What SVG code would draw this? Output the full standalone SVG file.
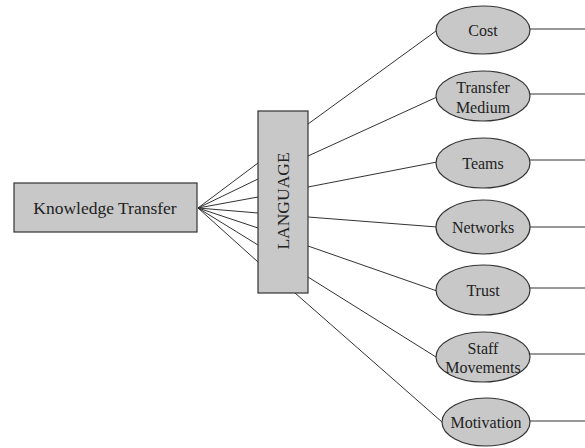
<svg xmlns="http://www.w3.org/2000/svg" width="585" height="448" viewBox="0 0 585 448">
<style>
.box{fill:#c8c8c8;stroke:#333;stroke-width:1.2}
.ln{stroke:#333;stroke-width:1;fill:none}
text{font-family:"Liberation Serif","Times New Roman",serif;fill:#222;text-anchor:middle}
.t{font-size:16px}
</style>
<rect width="585" height="448" fill="#fff"/>
<g id="connectors">
<path class="ln" d="M198 208L258 163M198 208L258 179M198 208L258 197M198 208L258 213M198 208L258 228M198 208L258 245M198 208L258 262"/>
<path class="ln" d="M308 124L436 31M308 156L437 97M308 187L437 162M308 217L437 227M308 246L437 291M308 277L436 357M295 293L442 422"/>
<path class="ln" d="M530 29H585M530 94H585M530 160H585M530 227H585M530 288H585M530 354H585M530 421H585"/>
</g>
<g id="knowledge"><rect class="box" x="14" y="183" width="183" height="49"/><text x="105" y="214" font-size="17.5">Knowledge Transfer</text></g>
<g id="language"><rect class="box" x="258" y="111" width="50" height="182"/><text transform="translate(289,201) rotate(-90)" font-size="17.5">LANGUAGE</text></g>
<g id="cost"><ellipse class="box" cx="483" cy="30" rx="47" ry="24"/><text class="t" x="483" y="36">Cost</text></g>
<g id="medium"><ellipse class="box" cx="483" cy="96" rx="47" ry="25"/><text class="t" x="483" y="93">Transfer</text><text class="t" x="483" y="113">Medium</text></g>
<g id="teams"><ellipse class="box" cx="483" cy="163" rx="47" ry="25"/><text class="t" x="483" y="169">Teams</text></g>
<g id="networks"><ellipse class="box" cx="483" cy="227" rx="47" ry="27"/><text class="t" x="483" y="233">Networks</text></g>
<g id="trust"><ellipse class="box" cx="483" cy="290" rx="47" ry="25"/><text class="t" x="483" y="296">Trust</text></g>
<g id="staff"><ellipse class="box" cx="483" cy="357" rx="47" ry="25"/><text class="t" x="483" y="354">Staff</text><text class="t" x="483" y="373">Movements</text></g>
<g id="motivation"><ellipse class="box" cx="486" cy="422" rx="44" ry="24"/><text class="t" x="486" y="428">Motivation</text></g>
</svg>
